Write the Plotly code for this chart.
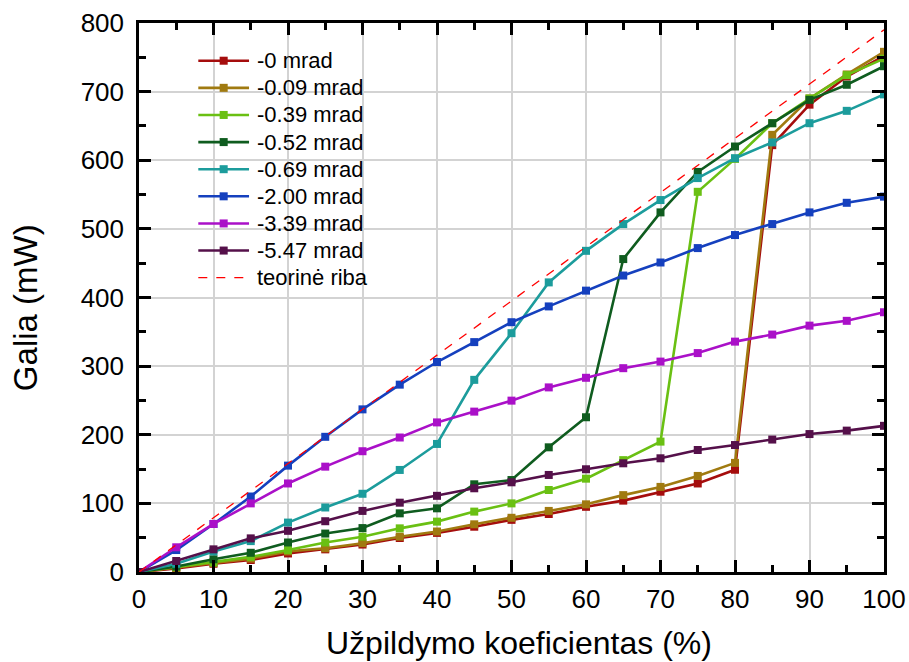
import plotly.graph_objects as go

# Fill factor (%)
fill_pct = [0, 5, 10, 15, 20, 25, 30, 35, 40, 45, 50, 55, 60, 65, 70, 75, 80, 85, 90, 95, 100]

# Output power (mW) for each misalignment angle
p_0_00 = [0, 5, 12, 17.5, 27, 33, 40, 49.5, 57, 66, 76, 84.5, 95, 104, 117, 129, 149, 622, 681, 722, 752]
p_0_09 = [0, 6, 13, 19.5, 30, 34.5, 42, 51.5, 59, 69.5, 79, 89, 98.6, 112, 124, 140, 159, 637, 690, 725, 758]
p_0_39 = [0, 7, 14, 22, 32, 43, 51.5, 63.6, 73.4, 88, 100, 119.5, 136, 163, 190, 554, 602, 654, 690, 724, 748]
p_0_52 = [0, 8, 18.5, 28, 43, 56, 64, 85.5, 92.8, 127.8, 134, 181.7, 225.5, 456, 524, 583, 620, 654, 688, 710, 737]
p_0_69 = [0, 12, 30, 45, 72, 94, 114, 148.7, 186.6, 280, 348, 422, 468, 507, 542, 574, 603, 626, 654, 672, 696]
p_2_00 = [0, 32, 70, 110, 155, 197, 237, 273, 306, 335, 364, 387, 410, 432, 451, 472, 491, 507, 524, 538, 547]
p_3_39 = [0, 36, 70, 100, 129, 153.5, 176, 196, 218, 233.7, 249.7, 269, 283, 297, 306.6, 319, 335.7, 346, 359, 366, 378.5]
p_5_47 = [0, 16, 33, 49, 60, 74, 89, 101, 111, 122, 130.7, 141.4, 149.7, 158.4, 165.7, 177.8, 185, 193, 201, 206, 213]

# Theoretical limit
limit_x = [0, 100]
limit_y = [0, 790]
limit_name = "teorinė riba"

series_names = ["-0 mrad", "-0.09 mrad", "-0.39 mrad", "-0.52 mrad",
                "-0.69 mrad", "-2.00 mrad", "-3.39 mrad", "-5.47 mrad"]
series_values = [p_0_00, p_0_09, p_0_39, p_0_52, p_0_69, p_2_00, p_3_39, p_5_47]
series_colors = ["#A50D0D", "#A07A10", "#6AC013", "#0F5C1F",
                 "#1C9C9C", "#1540BE", "#AA10C8", "#55104A"]

x_title = "Užpildymo koeficientas (%)"
y_title = "Galia (mW)"

FONT = "Liberation Sans, Arial, sans-serif"

fig = go.Figure()
for name, vals, col in zip(series_names, series_values, series_colors):
    fig.add_trace(go.Scatter(
        x=fill_pct, y=vals, name=name, mode="lines+markers",
        line=dict(color=col, width=2.6),
        marker=dict(symbol="square", size=8, color=col),
        showlegend=False,
    ))

fig.add_trace(go.Scatter(
    x=limit_x, y=limit_y, name=limit_name, mode="lines",
    line=dict(color="#FF0000", width=1.3, dash="dash"),
    showlegend=False,
))

# Hand-drawn legend block in plot-area (paper) coordinates
leg_x0, leg_x1, leg_text_x = 0.0796, 0.1477, 0.156
leg_y_top, leg_step = 0.9313, 0.0494
shapes, annotations = [], []
legend_rows = list(zip(series_names, series_colors)) + [(limit_name, "#FF0000")]
for i, (name, col) in enumerate(legend_rows):
    yy = leg_y_top - i * leg_step
    is_limit = name == limit_name
    shapes.append(dict(
        type="line", xref="paper", yref="paper",
        x0=leg_x0, x1=leg_x1 - (0.003 if is_limit else 0), y0=yy, y1=yy,
        line=dict(color=col, width=1.3 if is_limit else 2.6,
                  dash="dash" if is_limit else "solid"),
    ))
    if not is_limit:
        xm = (leg_x0 + leg_x1) / 2
        shapes.append(dict(
            type="rect", xref="paper", yref="paper",
            x0=xm - 0.0054, x1=xm + 0.0054, y0=yy - 0.0073, y1=yy + 0.0073,
            fillcolor=col, line=dict(width=0),
        ))
    annotations.append(dict(
        xref="paper", yref="paper", x=leg_text_x, y=yy,
        xanchor="left", yanchor="middle", showarrow=False, text=name,
        font=dict(family=FONT, size=22, color="black"),
    ))

# Axis titles
annotations.append(dict(
    xref="paper", yref="paper", x=0.51, y=-0.13,
    xanchor="center", yanchor="middle", showarrow=False, text=x_title,
    font=dict(family=FONT, size=32, color="black"),
))
annotations.append(dict(
    xref="paper", yref="paper", x=-0.152, y=0.482,
    xanchor="center", yanchor="middle", showarrow=False, text=y_title,
    textangle=-90, font=dict(family=FONT, size=33, color="black"),
))

axis_common = dict(
    showline=True, linecolor="black", linewidth=2.5, mirror="ticks",
    ticks="inside", ticklen=12, tickwidth=2.5, tickcolor="black",
    showgrid=True, gridcolor="#D3D3D3", gridwidth=1.5,
    zeroline=False, automargin=False, ticklabeloverflow="allow",
    tickfont=dict(family=FONT, size=26, color="black"),
)

fig.update_xaxes(
    range=[0, 100], dtick=10, ticklabelstandoff=2,
    minor=dict(ticks="inside", ticklen=7, tickwidth=2.5, tickcolor="black", dtick=5, showgrid=False),
    **axis_common,
)
fig.update_yaxes(
    range=[0, 800], dtick=100, ticklabelstandoff=7,
    minor=dict(ticks="inside", ticklen=7, tickwidth=2.5, tickcolor="black", dtick=50, showgrid=False),
    **axis_common,
)

fig.update_layout(
    width=909, height=662,
    margin=dict(l=139, r=25, t=23, b=90),
    plot_bgcolor="white", paper_bgcolor="white",
    shapes=shapes, annotations=annotations,
    showlegend=False,
)

fig.write_html("out.html")
